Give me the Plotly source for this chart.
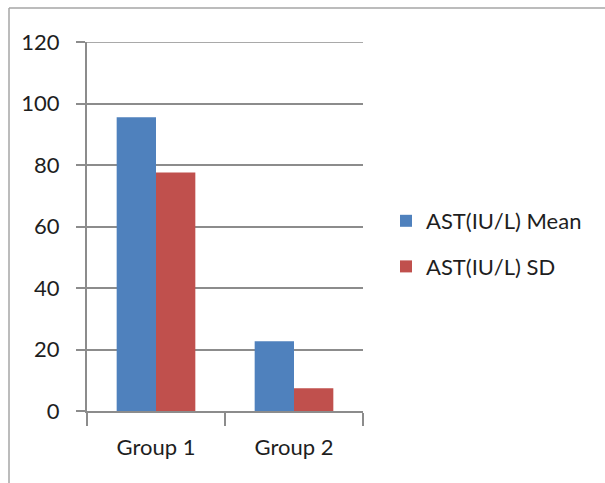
import plotly.graph_objects as go

# AST (IU/L) summary per group
groups = ["Group 1", "Group 2"]
ast_mean = [95.5, 22.7]
ast_sd = [77.6, 7.4]
y_ticks = [0, 20, 40, 60, 80, 100, 120]

FONT = "Lato"
TEXT = "#1e1e1e"
GRID = "#8c8c8c"
FS = 22

fig = go.Figure()
fig.add_trace(go.Bar(x=groups, y=ast_mean, name="AST(IU/L) Mean",
                     marker=dict(color="#4f81bd", line=dict(width=0)),
                     legendgroup="a"))
fig.add_trace(go.Bar(x=groups, y=ast_sd, name="AST(IU/L) SD",
                     marker=dict(color="#c0504d", line=dict(width=0)),
                     legendgroup="b"))

W, H = 605, 483
L, R, T, B = 87, 242, 42, 72
pw, ph = W - L - R, H - T - B

def px_x(px):
    return (px - L) / pw

def px_y(py):
    return (H - B - py) / ph

# outer chart frame (left and top edges)
frame = dict(type="line", xref="paper", yref="paper",
             line=dict(color="#a6a6a6", width=1.5))
fig.add_shape(**frame, x0=px_x(9), y0=px_y(8), x1=px_x(W + 5), y1=px_y(8))
fig.add_shape(**frame, x0=px_x(9), y0=px_y(8), x1=px_x(9), y1=px_y(H + 5))

# top gridline at the axis maximum
fig.add_shape(type="line", xref="paper", yref="y", x0=0, x1=1,
              y0=y_ticks[-1], y1=y_ticks[-1],
              line=dict(color=GRID, width=1.5), layer="below")

fig.update_layout(
    width=W, height=H,
    margin=dict(l=L, r=R, t=T, b=B, pad=0),
    paper_bgcolor="white", plot_bgcolor="white",
    barmode="group", bargap=0.43, bargroupgap=0,
    font=dict(family=FONT, size=FS, color=TEXT),
    legend=dict(x=px_x(386), y=px_y(200), xanchor="left", yanchor="top",
                tracegroupgap=14, font=dict(size=FS, color=TEXT),
                bgcolor="rgba(0,0,0,0)"),
    xaxis=dict(showline=True, linecolor=GRID, linewidth=2,
               ticks="outside", tickson="boundaries", ticklen=13,
               tickcolor=GRID, tickwidth=1.5, showgrid=False,
               ticklabelstandoff=16,
               tickfont=dict(size=FS, color=TEXT)),
    yaxis=dict(range=[0, 120], tickvals=y_ticks, showline=True,
               linecolor=GRID, linewidth=2, ticks="outside", ticklen=9,
               tickcolor=GRID, tickwidth=1.5, showgrid=True,
               gridcolor=GRID, gridwidth=1.5, zeroline=False,
               ticklabelstandoff=12,
               tickfont=dict(size=FS, color=TEXT)),
)

fig.write_html("out.html")
